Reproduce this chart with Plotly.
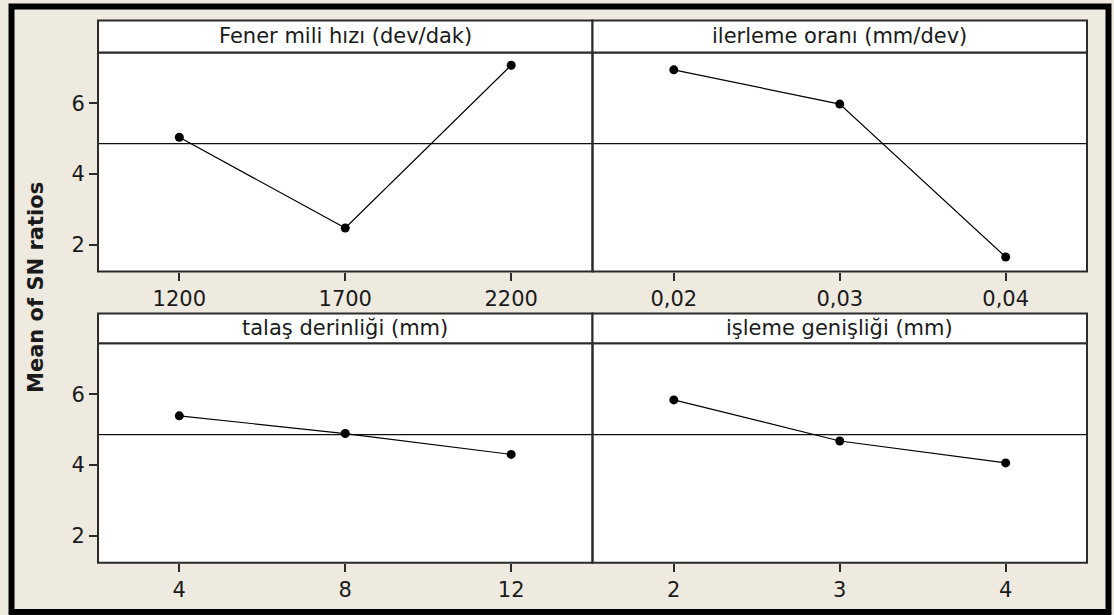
import numpy as np
import plotly.graph_objects as go

# ---------------- data ----------------
factor_titles = [
    "Fener mili hızı (dev/dak)",
    "ilerleme oranı (mm/dev)",
    "talaş derinliği (mm)",
    "işleme genişliği (mm)",
]
spindle_levels = [1200, 1700, 2200]
spindle_labels = ["1200", "1700", "2200"]
spindle_sn = [5.04, 2.47, 7.08]

feed_levels = [0.02, 0.03, 0.04]
feed_labels = ["0,02", "0,03", "0,04"]
feed_sn = [6.95, 5.98, 1.65]

depth_levels = [4, 8, 12]
depth_labels = ["4", "8", "12"]
depth_sn = [5.39, 4.89, 4.30]

width_levels = [2, 3, 4]
width_labels = ["2", "3", "4"]
width_sn = [5.84, 4.68, 4.06]

y_tick_values = [2, 4, 6]
y_title = "Mean of SN ratios"

# ---------------- layout constants ----------------
W, H = 1114, 615
BG = "#EEEAE0"
FRAME = "#2b2b2b"
FONT = "DejaVu Sans"

def px(x):
    return x / W

def py(y):
    return 1 - y / H

col_px = [(98, 592.5), (592.5, 1087)]
row_px = [(52.5, 271.5), (343.3, 562.7)]   # plot area top/bottom
strip_top_px = [20.5, 313.5]
y_range = [1.24, 7.44]

panels = [
    (spindle_levels, spindle_labels, spindle_sn),
    (feed_levels, feed_labels, feed_sn),
    (depth_levels, depth_labels, depth_sn),
    (width_levels, width_labels, width_sn),
]

grand_mean = float(np.mean(spindle_sn + feed_sn + depth_sn + width_sn))

fig = go.Figure()
shapes = []
annotations = []
layout_axes = {}

for i, (levels, labels, values) in enumerate(panels):
    r, c = divmod(i, 2)
    xs = "" if i == 0 else str(i + 1)
    xa, ya = "x" + xs, "y" + xs
    step = levels[1] - levels[0]
    pad = 0.49 * step
    fig.add_trace(go.Scatter(
        x=levels, y=values, xaxis=xa, yaxis=ya, mode="lines+markers",
        line=dict(color="#000000", width=1.2),
        marker=dict(color="#000000", size=9),
        showlegend=False, hoverinfo="x+y",
    ))
    left, right = col_px[c]
    top, bottom = row_px[r]
    layout_axes["xaxis" + xs] = dict(
        domain=[px(left), px(right)], anchor=ya,
        range=[levels[0] - pad, levels[-1] + pad],
        tickvals=levels, ticktext=labels,
        ticks="outside", ticklen=8, tickwidth=1.5, tickcolor=FRAME,
        showline=False, showgrid=False, zeroline=False,
        tickfont=dict(family=FONT, size=21, color="#1a1a1a"),
    )
    ydict = dict(
        domain=[py(bottom), py(top)], anchor=xa,
        range=y_range,
        showline=False, showgrid=False, zeroline=False,
        tickfont=dict(family=FONT, size=21, color="#1a1a1a"),
    )
    if c == 0:
        ydict.update(tickvals=y_tick_values, ticks="outside", ticklen=8,
                     tickwidth=1.5, tickcolor=FRAME, showticklabels=True)
    else:
        ydict.update(tickvals=y_tick_values, ticks="", showticklabels=False)
    layout_axes["yaxis" + xs] = ydict

    # grand mean reference line
    shapes.append(dict(type="line", xref=xa + " domain", yref=ya,
                       x0=0, x1=1, y0=grand_mean, y1=grand_mean,
                       line=dict(color="#111111", width=1.2), layer="below"))
    # panel frame
    shapes.append(dict(type="rect", xref="paper", yref="paper",
                       x0=px(left), x1=px(right), y0=py(bottom), y1=py(top),
                       line=dict(color=FRAME, width=2), fillcolor="rgba(0,0,0,0)"))
    # strip header
    st = strip_top_px[r]
    shapes.append(dict(type="rect", xref="paper", yref="paper",
                       x0=px(left), x1=px(right), y0=py(top), y1=py(st),
                       fillcolor="#FFFFFF", line=dict(color=FRAME, width=2)))
    annotations.append(dict(text=factor_titles[i], xref="paper", yref="paper",
                            x=px((left + right) / 2), y=py((st + top) / 2),
                            xanchor="center", yanchor="middle", showarrow=False,
                            font=dict(family=FONT, size=21, color="#1a1a1a")))

# outer black frame
shapes.append(dict(type="rect", xref="paper", yref="paper",
                   x0=px(11.5), x1=px(1108.5), y0=py(612), y1=py(6.5),
                   line=dict(color="#000000", width=6), fillcolor="rgba(0,0,0,0)"))

annotations.append(dict(text="<b>" + y_title + "</b>", xref="paper", yref="paper",
                        x=px(36), y=py(288), textangle=-90,
                        xanchor="center", yanchor="middle", showarrow=False,
                        font=dict(family=FONT, size=21, color="#1a1a1a")))

fig.update_layout(
    width=W, height=H,
    margin=dict(l=0, r=0, t=0, b=0),
    paper_bgcolor=BG, plot_bgcolor="#FFFFFF",
    shapes=shapes, annotations=annotations,
    **layout_axes,
)

fig.write_html("out.html")
